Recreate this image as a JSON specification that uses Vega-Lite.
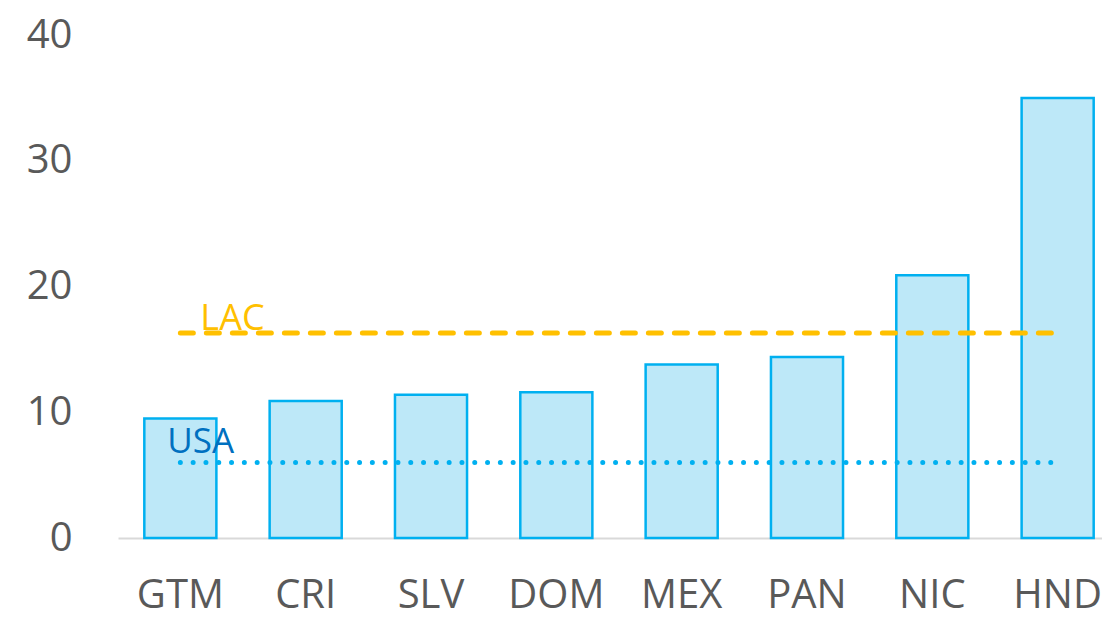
{
  "$schema": "https://vega.github.io/schema/vega-lite/v6.json",
  "width": 1002,
  "height": 503,
  "autosize": {"type": "none"},
  "padding": {"left": 118, "top": 35, "right": 0, "bottom": 81},
  "background": "white",
  "config": {"view": {"stroke": null}, "font": "Open Sans"},
  "data": {
    "values": [
      {"country": "GTM", "value": 9.5, "LAC": 16.3, "USA": 6.0},
      {"country": "CRI", "value": 10.9, "LAC": 16.3, "USA": 6.0},
      {"country": "SLV", "value": 11.4, "LAC": 16.3, "USA": 6.0},
      {"country": "DOM", "value": 11.6, "LAC": 16.3, "USA": 6.0},
      {"country": "MEX", "value": 13.8, "LAC": 16.3, "USA": 6.0},
      {"country": "PAN", "value": 14.4, "LAC": 16.3, "USA": 6.0},
      {"country": "NIC", "value": 20.9, "LAC": 16.3, "USA": 6.0},
      {"country": "HND", "value": 35.0, "LAC": 16.3, "USA": 6.0}
    ]
  },
  "encoding": {
    "x": {
      "field": "country", "type": "nominal", "sort": null,
      "scale": {"paddingInner": 0.425, "paddingOuter": 0.21},
      "axis": {"title": null, "labelAngle": 0, "labelFontSize": 40, "labelColor": "#595959", "labelPadding": 37, "ticks": false, "domainColor": "#d9d9d9", "domainWidth": 2}
    }
  },
  "layer": [
    {
      "mark": {"type": "bar", "fill": "#bde8f8", "stroke": "#00b0f0", "strokeWidth": 2.5},
      "encoding": {
        "y": {
          "field": "value", "type": "quantitative",
          "scale": {"domain": [0, 40], "nice": false},
          "axis": {"title": null, "values": [0, 10, 20, 30, 40], "grid": false, "domain": false, "ticks": false, "labelFontSize": 40, "labelColor": "#595959", "labelPadding": 46}
        }
      }
    },
    {
      "mark": {"type": "line", "color": "#ffc000", "strokeWidth": 5, "strokeDash": [13, 13], "strokeCap": "round"},
      "encoding": {"y": {"field": "LAC", "type": "quantitative"}}
    },
    {
      "mark": {"type": "line", "color": "#00b0f0", "strokeWidth": 5, "strokeDash": [0, 12.8], "strokeCap": "round"},
      "encoding": {"y": {"field": "USA", "type": "quantitative"}}
    },
    {
      "transform": [{"filter": "datum.country === 'GTM'"}],
      "mark": {"type": "text", "text": "LAC", "color": "#ffc000", "fontSize": 36, "align": "left", "baseline": "alphabetic", "dx": 20, "dy": -3},
      "encoding": {"y": {"field": "LAC", "type": "quantitative"}}
    },
    {
      "transform": [{"filter": "datum.country === 'GTM'"}],
      "mark": {"type": "text", "text": "USA", "color": "#0070c0", "fontSize": 35, "align": "left", "baseline": "alphabetic", "dx": -13, "dy": -10},
      "encoding": {"y": {"field": "USA", "type": "quantitative"}}
    }
  ]
}
